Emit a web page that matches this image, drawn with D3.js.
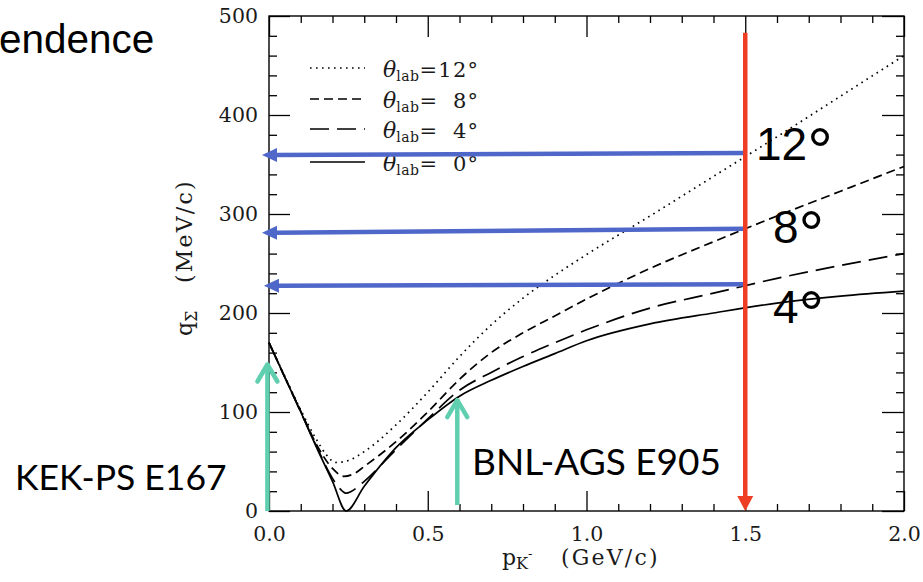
<!DOCTYPE html>
<html>
<head>
<meta charset="utf-8">
<script src="https://cdn.jsdelivr.net/npm/d3@7"></script>
<style>
  html, body { margin: 0; padding: 0; background: #fff; }
  svg { display: block; }
  text { white-space: pre; }
</style>
</head>
<body>
<svg id="chart" width="923" height="582"></svg>
<script>
// ---------------- data ----------------
const pTheta0  = [0, 0.05, 0.1, 0.15, 0.2, 0.243, 0.3, 0.4, 0.5, 0.6, 0.7, 0.8, 0.9, 1.0, 1.2, 1.4, 1.6, 1.8, 2.0];
const qTheta0  = [170, 135, 100, 64, 30, 0, 25, 64, 92, 116, 132, 146, 159, 172, 189, 200, 210, 217, 222];

const pTheta4  = [0, 0.05, 0.1, 0.15, 0.2, 0.225, 0.243, 0.26, 0.3, 0.4, 0.5, 0.6, 0.7, 0.8, 0.9, 1.0, 1.2, 1.4, 1.6, 1.8, 2.0];
const qTheta4  = [170, 135, 100, 65, 33, 22, 18, 20, 30, 62, 93, 122, 140, 156, 170, 183, 205, 220, 235, 248, 260];

const pTheta8  = [0, 0.05, 0.1, 0.15, 0.2, 0.236, 0.27, 0.3, 0.4, 0.5, 0.6, 0.7, 0.8, 0.9, 1.0, 1.2, 1.4, 1.6, 1.8, 2.0];
const qTheta8  = [170, 135, 101, 67, 43, 35, 38, 45, 70, 100, 133, 160, 180, 197, 214, 245, 272, 298, 323, 348];

const pTheta12 = [0, 0.05, 0.1, 0.15, 0.18, 0.21, 0.25, 0.3, 0.4, 0.5, 0.6, 0.7, 0.8, 0.9, 1.0, 1.2, 1.4, 1.6, 1.8, 2.0];
const qTheta12 = [170, 136, 102, 72, 57, 49, 51, 60, 87, 120, 156, 188, 215, 238, 259, 298, 338, 378, 419, 460];

const legendLabels = ["=12°", "=\u20078°", "=\u20074°", "=\u20070°"];
const angleLabels  = ["12", "8", "4"];
const angleLabelQ  = [362, 278, 197];

const xMajorTicks = [0, 0.5, 1.0, 1.5, 2.0];
const xMinorTicks = [0.1,0.2,0.3,0.4,0.6,0.7,0.8,0.9,1.1,1.2,1.3,1.4,1.6,1.7,1.8,1.9];
const yMajorTicks = [0, 100, 200, 300, 400, 500];
const yMinorTicks = [20,40,60,80,120,140,160,180,220,240,260,280,320,340,360,380,420,440,460,480];

// blue horizontal arrows (from p = 1.5 to a tip just left of the axis)
const blueQRight = [361.5, 285, 229];
const blueQLeft  = [359.5, 281, 227.5];
const blueTipP   = [-0.022, -0.022, -0.016];
const blueStartP = 1.5;

// red vertical arrow
const redP = 1.5, redQTop = 483, redQBottom = 0;

// green arrows
const greenP       = [-0.005, 0.593];
const greenQBottom = [0, 6];
const greenQTop    = [150, 114];

// ---------------- layout ----------------
const svg = d3.select("#chart");
const x = d3.scaleLinear().domain([0, 2]).range([269, 904]);
const y = d3.scaleLinear().domain([0, 500]).range([511, 16]);

const SERIF = "'DejaVu Serif', serif";
const tickFont = 20.5;

function styleAxis(g) {
  g.select(".domain").remove();
  g.selectAll(".tick line").attr("stroke", "#000").attr("stroke-width", 1.3);
  g.selectAll("text").attr("font-family", SERIF).attr("font-size", tickFont).attr("fill", "#1a1a1a");
}
svg.append("g").attr("transform", `translate(0,${y(0)})`)
  .call(d3.axisBottom(x).tickValues(xMajorTicks).tickSize(-20).tickPadding(15).tickFormat(d3.format(".1f")))
  .call(styleAxis);
svg.append("g").attr("transform", `translate(0,${y(0)})`)
  .call(d3.axisBottom(x).tickValues(xMinorTicks).tickSize(-7).tickFormat(""))
  .call(styleAxis);
svg.append("g").attr("transform", `translate(0,${y(500)})`)
  .call(d3.axisTop(x).tickValues(xMajorTicks).tickSize(-21).tickFormat(""))
  .call(styleAxis);
svg.append("g").attr("transform", `translate(0,${y(500)})`)
  .call(d3.axisTop(x).tickValues(xMinorTicks).tickSize(-7).tickFormat(""))
  .call(styleAxis);
svg.append("g").attr("transform", `translate(${x(0)},0)`)
  .call(d3.axisLeft(y).tickValues(yMajorTicks).tickSize(-21).tickPadding(11).tickFormat(d3.format("d")))
  .call(styleAxis);
svg.append("g").attr("transform", `translate(${x(0)},0)`)
  .call(d3.axisLeft(y).tickValues(yMinorTicks).tickSize(-8).tickFormat(""))
  .call(styleAxis);
svg.append("g").attr("transform", `translate(${x(2)},0)`)
  .call(d3.axisRight(y).tickValues(yMajorTicks).tickSize(-22).tickFormat(""))
  .call(styleAxis);
svg.append("g").attr("transform", `translate(${x(2)},0)`)
  .call(d3.axisRight(y).tickValues(yMinorTicks).tickSize(-8).tickFormat(""))
  .call(styleAxis);

// frame
svg.append("rect")
  .attr("x", x(0)).attr("y", y(500))
  .attr("width", x(2) - x(0)).attr("height", y(0) - y(500))
  .attr("fill", "none").attr("stroke", "#000").attr("stroke-width", 1.4);

// axis titles
const xt = svg.append("text").attr("x", 502).attr("y", 565)
  .attr("font-family", SERIF).attr("font-size", 22).attr("fill", "#1a1a1a");
xt.append("tspan").text("p");
xt.append("tspan").attr("font-size", 16).attr("dy", 4).text("K");
xt.append("tspan").attr("font-size", 13).attr("dy", -11).text("-");
xt.append("tspan").attr("x", 561).attr("dy", 7).attr("letter-spacing", 2.2).text("(GeV/c)");

const yt = svg.append("text")
  .attr("transform", "translate(192,336) rotate(-90)")
  .attr("font-family", SERIF).attr("font-size", 22).attr("fill", "#1a1a1a");
yt.append("tspan").attr("x", 0).text("q");
yt.append("tspan").attr("font-size", 16).attr("dy", 5).text("Σ");
yt.append("tspan").attr("x", 53).attr("dy", -5).attr("letter-spacing", 2.2).text("(MeV/c)");

// curves
const series = [
  { p: pTheta12, q: qTheta12, dash: "1.6,4.4" },
  { p: pTheta8,  q: qTheta8,  dash: "9,5" },
  { p: pTheta4,  q: qTheta4,  dash: "19,8" },
  { p: pTheta0,  q: qTheta0,  dash: null }
];
const line = d3.line().x(d => x(d[0])).y(d => y(d[1])).curve(d3.curveMonotoneX);
series.forEach(s => {
  const pts = s.p.map((p, i) => [p, s.q[i]]);
  svg.append("path").attr("d", line(pts))
    .attr("fill", "none").attr("stroke", "#000").attr("stroke-width", 1.7)
    .attr("stroke-dasharray", s.dash);
});

// legend
const legendRowsY = [68, 99, 129, 162];
series.forEach((s, i) => {
  const ly = legendRowsY[i];
  svg.append("line").attr("x1", 310).attr("x2", 365).attr("y1", ly).attr("y2", ly)
    .attr("stroke", "#000").attr("stroke-width", 1.7).attr("stroke-dasharray", s.dash);
  const t = svg.append("text").attr("x", 383).attr("y", ly + 9)
    .attr("font-family", SERIF).attr("font-size", 21).attr("fill", "#1a1a1a");
  t.append("tspan").attr("font-style", "italic").attr("font-size", 22).text("θ");
  t.append("tspan").attr("font-size", 14).attr("dy", 4).attr("letter-spacing", 0.5).text("lab");
  t.append("tspan").attr("dy", -4).attr("letter-spacing", 1.2).text(legendLabels[i]);
});

// arrows
const BLUE = "#4f67c9", RED = "#ef3e26", GREEN = "#5fcfb0";
blueQRight.forEach((qr, i) => {
  const x1 = x(blueStartP), y1 = y(qr), x2 = x(blueTipP[i]), y2 = y(blueQLeft[i]);
  const hl = 15, hw = 7;
  svg.append("line").attr("x1", x1).attr("y1", y1).attr("x2", x2 + hl - 2).attr("y2", y2)
    .attr("stroke", BLUE).attr("stroke-width", 4.5);
  svg.append("path")
    .attr("d", `M${x2},${y2} L${x2 + hl},${y2 - hw} L${x2 + hl},${y2 + hw} Z`)
    .attr("fill", BLUE);
});

{
  const xr = x(redP), yTop = y(redQTop), yBot = y(redQBottom);
  const hl = 15, hw = 8;
  svg.append("line").attr("x1", xr).attr("x2", xr).attr("y1", yTop).attr("y2", yBot - hl + 2)
    .attr("stroke", RED).attr("stroke-width", 4.5);
  svg.append("path")
    .attr("d", `M${xr},${yBot} L${xr - hw},${yBot - hl} L${xr + hw},${yBot - hl} Z`)
    .attr("fill", RED);
}

greenP.forEach((gp, i) => {
  const xg = x(gp), yB = y(greenQBottom[i]), yT = y(greenQTop[i]);
  svg.append("line").attr("x1", xg).attr("x2", xg).attr("y1", yB).attr("y2", yT + 1)
    .attr("stroke", GREEN).attr("stroke-width", 4.5);
  svg.append("path")
    .attr("d", `M${xg - 10},${yT + 19} L${xg},${yT + 2} L${xg + 10},${yT + 19}`)
    .attr("fill", "none").attr("stroke", GREEN).attr("stroke-width", 4.5)
    .attr("stroke-linecap", "round").attr("stroke-linejoin", "round");
});

// angle labels
const angleX = [756, 773, 773];
angleLabels.forEach((lab, i) => {
  const t = svg.append("text").attr("x", angleX[i]).attr("y", y(angleLabelQ[i]) + 7)
    .attr("font-family", "'Liberation Sans', Arial, sans-serif").attr("font-size", 46).attr("fill", "#000");
  t.append("tspan").text(lab);
  t.append("tspan").attr("font-size", 64).attr("dy", 13).text("°");
});

// experiment labels
svg.append("text").attr("x", 15).attr("y", 490)
  .attr("font-family", "Lato, 'Open Sans', sans-serif").attr("font-size", 35.5).attr("fill", "#000")
  .text("KEK-PS E167");
svg.append("text").attr("x", 472).attr("y", 475)
  .attr("font-family", "Lato, 'Open Sans', sans-serif").attr("font-size", 37).attr("fill", "#000")
  .text("BNL-AGS E905");

// partial slide title
svg.append("text").attr("x", -1).attr("y", 53)
  .attr("font-family", "'Liberation Sans', Arial, sans-serif").attr("font-size", 40.5).attr("fill", "#000")
  .text("endence");
</script>
</body>
</html>
